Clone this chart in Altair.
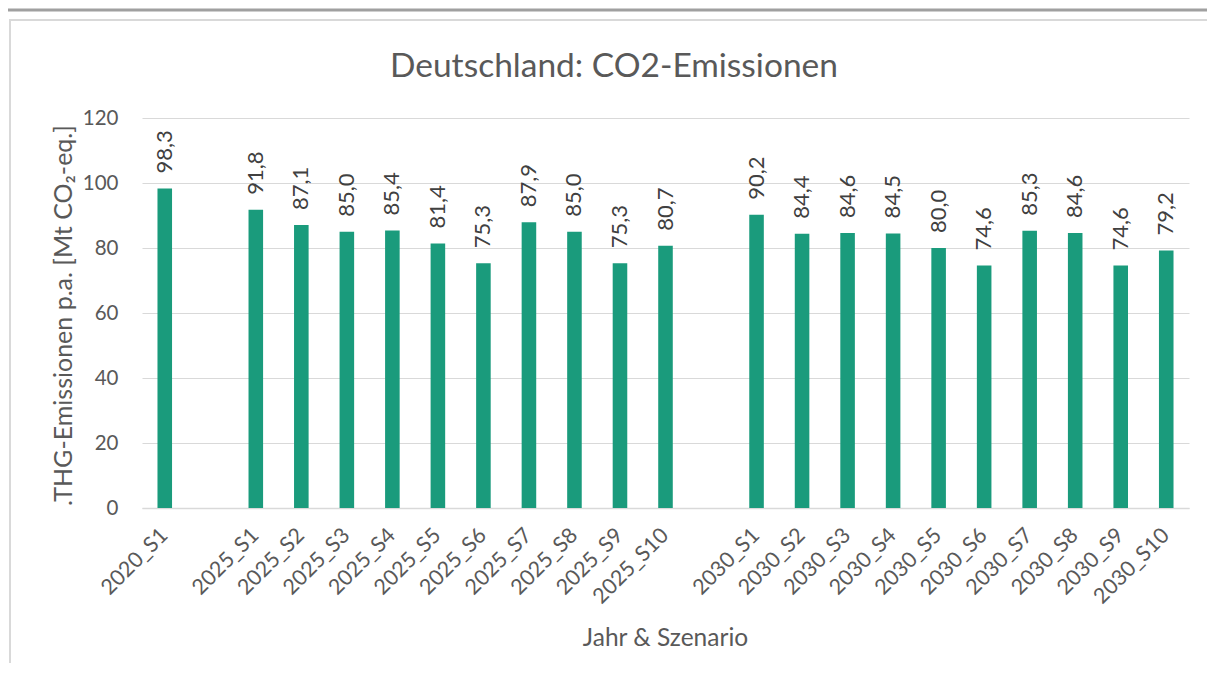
import altair as alt
import pandas as pd

# ---- data ----
categories = ["2020_S1", " ",
              "2025_S1", "2025_S2", "2025_S3", "2025_S4", "2025_S5",
              "2025_S6", "2025_S7", "2025_S8", "2025_S9", "2025_S10", "  ",
              "2030_S1", "2030_S2", "2030_S3", "2030_S4", "2030_S5",
              "2030_S6", "2030_S7", "2030_S8", "2030_S9", "2030_S10"]
values = [98.3, None,
          91.8, 87.1, 85.0, 85.4, 81.4, 75.3, 87.9, 85.0, 75.3, 80.7, None,
          90.2, 84.4, 84.6, 84.5, 80.0, 74.6, 85.3, 84.6, 74.6, 79.2]
title_text = "Deutschland: CO2-Emissionen"
x_title = "Jahr & Szenario"
y_title = ".THG-Emissionen p.a. [Mt CO₂-eq.]"
y_ticks = [0, 20, 40, 60, 80, 100, 120]

rows = [{"cat": c, "val": v, "lbl": f"{v:.1f}".replace(".", ",")}
        for c, v in zip(categories, values) if v is not None]
df = pd.DataFrame(rows)

FONT = "Lato"
TXT = "#595959"
BAR = "#1a9b7c"

x_enc = alt.X("cat:N", sort=categories,
              scale=alt.Scale(domain=categories, paddingInner=0.68, paddingOuter=0.34),
              axis=alt.Axis(title=x_title, labelAngle=-45, labelAlign="right",
                            labelBaseline="middle", labelPadding=24, ticks=False,
                            labelFontSize=21.5, labelColor=TXT, labelFont=FONT,
                            labelOverlap=False, labelBound=False,
                            domainColor="#d9d9d9", domainWidth=1.5,
                            titleFont=FONT, titleFontSize=24.5, titleColor=TXT,
                            titleFontWeight="normal", titleX=523, titleY=137,
                            titleAlign="center", titleBaseline="alphabetic"))
y_enc = alt.Y("val:Q",
              scale=alt.Scale(domain=[0, 120], nice=False),
              axis=alt.Axis(title=y_title, values=y_ticks, ticks=False, domain=False,
                            gridColor="#d9d9d9", gridWidth=1, labelPadding=24,
                            labelFontSize=20.5, labelColor=TXT, labelFont=FONT,
                            titleFont=FONT, titleFontSize=25, titleColor=TXT,
                            titleFontWeight="normal", titleX=-79, titleY=197,
                            titleAngle=-90, titleAlign="center", titleBaseline="middle"))

base = alt.Chart(df)
bars = base.mark_bar(color=BAR).encode(x=x_enc, y=y_enc)
labels = base.mark_text(angle=270, align="left", baseline="middle", dx=15,
                        font=FONT, fontSize=22, color="#404040").encode(
    x=alt.X("cat:N", sort=categories), y="val:Q", text="lbl:N")

one = pd.DataFrame({"t": [title_text]})
title = alt.Chart(one).mark_text(align="center", baseline="alphabetic", font=FONT,
                                 fontSize=33.5, color=TXT).encode(
    x=alt.value(472), y=alt.value(-41), text="t:N")
border_v = alt.Chart(one).mark_rule(color="#d9d9d9", strokeWidth=2).encode(
    x=alt.value(-132), y=alt.value(-99), y2=alt.value(560))
border_h = alt.Chart(one).mark_rule(color="#d9d9d9", strokeWidth=2).encode(
    x=alt.value(-133), x2=alt.value(1100), y=alt.value(-98))
top_line = alt.Chart(one).mark_rule(color="#a0a0a0", strokeWidth=3).encode(
    x=alt.value(-137), x2=alt.value(1100), y=alt.value(-108))

chart = alt.layer(top_line, border_v, border_h, bars, labels, title).properties(
    width=1047, height=390,
    autosize=alt.AutoSizeParams(type="none"),
    padding={"left": 134, "top": 110, "right": 18, "bottom": 155},
).configure_view(stroke=None)

chart.save("out.html", embed_options={"renderer": "svg", "actions": False})
